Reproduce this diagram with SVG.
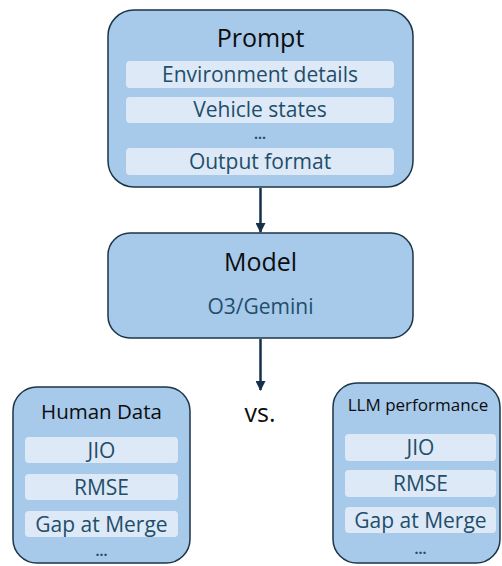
<svg xmlns="http://www.w3.org/2000/svg" width="502" height="566" viewBox="0 0 502 566">
<defs>
<style>
.box{fill:#a7c9ea;stroke:#1c3548;stroke-width:1.5}
.row{fill:#dde9f6}
.t{font-family:"Open Sans","Liberation Sans",sans-serif;text-anchor:middle}
.title{fill:#0d0d0d}
.sub{fill:#1f4e6b}
.conn{stroke:#15304a;stroke-width:2.5;fill:none}
</style>
<marker id="ah" viewBox="0 0 10 10" refX="9" refY="5" markerWidth="4" markerHeight="4" orient="auto" markerUnits="strokeWidth">
<path d="M0,0 L10,5 L0,10 z" fill="#15304a"/>
</marker>
</defs>
<rect width="502" height="566" fill="#ffffff"/>
<g id="connectors">
<line class="conn" x1="260.5" y1="188" x2="260.5" y2="232" marker-end="url(#ah)"/>
<line class="conn" x1="260.5" y1="339" x2="260.5" y2="390" marker-end="url(#ah)"/>
</g>
<g id="prompt">
<rect class="box" x="108" y="10" width="305" height="177" rx="26"/>
<text class="t title" x="260.5" y="47" font-size="25">Prompt</text>
<rect class="row" x="126" y="61" width="268" height="27" rx="4"/>
<text class="t sub" x="260" y="82" font-size="21">Environment details</text>
<rect class="row" x="126" y="97" width="268" height="26" rx="4"/>
<text class="t sub" x="260" y="116.5" font-size="21">Vehicle states</text>
<text class="t sub" x="260" y="139" font-size="14" font-weight="bold">...</text>
<rect class="row" x="126" y="148" width="268" height="27" rx="4"/>
<text class="t sub" x="260" y="169" font-size="21">Output format</text>
</g>
<g id="model">
<rect class="box" x="108" y="233" width="305" height="105" rx="22"/>
<text class="t title" x="260.5" y="271" font-size="25">Model</text>
<text class="t sub" x="260.5" y="314" font-size="21">O3/Gemini</text>
</g>
<g id="vs">
<text class="t title" x="260" y="422" font-size="25">vs.</text>
</g>
<g id="human">
<rect class="box" x="13" y="387" width="177" height="176" rx="24"/>
<text class="t title" x="101.5" y="419" font-size="20.5">Human Data</text>
<rect class="row" x="25" y="437" width="153" height="26" rx="4"/>
<text class="t sub" x="101.5" y="458" font-size="21">JIO</text>
<rect class="row" x="25" y="474" width="153" height="26" rx="4"/>
<text class="t sub" x="101.5" y="495" font-size="21">RMSE</text>
<rect class="row" x="25" y="511" width="153" height="26" rx="4"/>
<text class="t sub" x="101.5" y="532" font-size="21">Gap at Merge</text>
<text class="t sub" x="101.5" y="556" font-size="14" font-weight="bold">...</text>
</g>
<g id="llm">
<rect class="box" x="333" y="383" width="167" height="180" rx="24"/>
<text class="t title" x="418" y="411" font-size="17">LLM performance</text>
<rect class="row" x="345" y="434" width="151" height="27" rx="4"/>
<text class="t sub" x="420.5" y="455" font-size="21">JIO</text>
<rect class="row" x="345" y="470" width="151" height="27" rx="4"/>
<text class="t sub" x="420.5" y="491" font-size="21">RMSE</text>
<rect class="row" x="345" y="507" width="151" height="26" rx="4"/>
<text class="t sub" x="420.5" y="528" font-size="21">Gap at Merge</text>
<text class="t sub" x="420.5" y="554" font-size="14" font-weight="bold">...</text>
</g>
</svg>
